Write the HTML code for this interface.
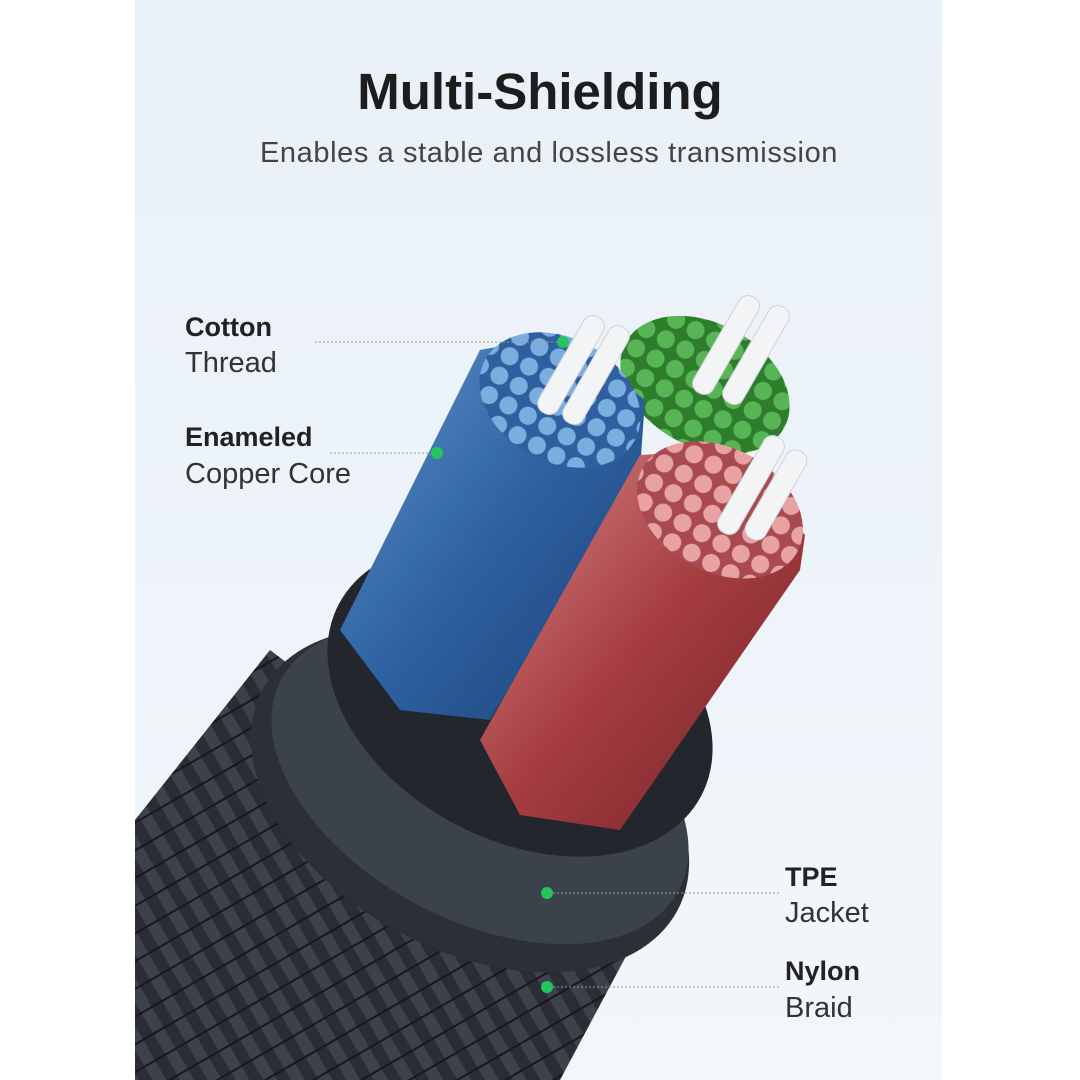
<!DOCTYPE html>
<html><head><style>
body{margin:0;width:1080px;height:1080px;background:#fff;overflow:hidden;font-family:"Liberation Sans",sans-serif}
.panel{position:absolute;left:135px;top:0;width:807px;height:1080px;background:linear-gradient(#e9f1f8,#eef4f9 60%,#f3f7fb)}
.t{position:absolute;color:#222}
.b{font-weight:bold;font-size:27px}
.n{font-size:29px;color:#333}
</style></head><body>
<div class="panel"></div>
<svg width="1080" height="1080" style="position:absolute;left:0;top:0">
<defs>
<linearGradient id="bl" x1="0" y1="0" x2="1" y2="1"><stop offset="0" stop-color="#5f95cc"/><stop offset=".5" stop-color="#2e62a2"/><stop offset="1" stop-color="#1d3f75"/></linearGradient>
<linearGradient id="rd" x1="0" y1="0" x2="1" y2="1"><stop offset="0" stop-color="#d88888"/><stop offset=".5" stop-color="#a63d40"/><stop offset="1" stop-color="#6e2226"/></linearGradient>
<pattern id="wv" width="24" height="24" patternUnits="userSpaceOnUse" patternTransform="rotate(-30)"><rect width="24" height="24" fill="#2a2d33"/><rect width="12" height="24" fill="#3d424a"/><rect y="11" width="24" height="2" fill="#16181c"/></pattern>
<pattern id="bw" width="22" height="22" patternUnits="userSpaceOnUse"><rect width="22" height="22" fill="#2f5f9e"/><circle cx="11" cy="11" r="9" fill="#7aaede"/></pattern>
<pattern id="rw" width="22" height="22" patternUnits="userSpaceOnUse"><rect width="22" height="22" fill="#a84a50"/><circle cx="11" cy="11" r="9" fill="#e9a2a2"/></pattern>
<pattern id="gw" width="22" height="22" patternUnits="userSpaceOnUse"><rect width="22" height="22" fill="#2e7d2c"/><circle cx="11" cy="11" r="9" fill="#58b555"/></pattern>
</defs>
<polygon points="135,820 270,650 640,930 560,1080 135,1080" fill="url(#wv)"/>
<ellipse cx="470" cy="800" rx="235" ry="150" transform="rotate(28 470 800)" fill="#2b2f36"/>
<ellipse cx="480" cy="785" rx="225" ry="135" transform="rotate(28 480 785)" fill="#3c424b"/>
<ellipse cx="520" cy="700" rx="205" ry="140" transform="rotate(28 520 700)" fill="#23272d"/>
<!-- green -->
<ellipse cx="705" cy="385" rx="90" ry="62" transform="rotate(28 705 385)" fill="url(#gw)"/>
<!-- blue -->
<polygon points="480,350 560,335 645,400 640,470 490,720 400,710 340,630" fill="url(#bl)"/>
<ellipse cx="560" cy="400" rx="85" ry="62" transform="rotate(28 560 400)" fill="url(#bw)"/>
<!-- red -->
<polygon points="640,455 730,450 805,535 800,570 620,830 520,815 480,740" fill="url(#rd)"/>
<ellipse cx="720" cy="510" rx="88" ry="62" transform="rotate(28 720 510)" fill="url(#rw)"/>
<!-- white threads -->
<g fill="#f2f4f6" stroke="#cfd4da">
<rect x="560" y="310" width="22" height="110" rx="10" transform="rotate(30 571 365)"/>
<rect x="585" y="320" width="22" height="110" rx="10" transform="rotate(30 596 375)"/>
<rect x="715" y="290" width="22" height="110" rx="10" transform="rotate(30 726 345)"/>
<rect x="745" y="300" width="22" height="110" rx="10" transform="rotate(30 756 355)"/>
<rect x="740" y="430" width="22" height="110" rx="10" transform="rotate(30 751 485)"/>
<rect x="765" y="445" width="22" height="100" rx="10" transform="rotate(30 776 495)"/>
</g>
<g stroke="#999" stroke-dasharray="2,2" stroke-width="1">
<line x1="315" y1="342" x2="558" y2="342"/>
<line x1="330" y1="453" x2="432" y2="453"/>
<line x1="553" y1="893" x2="780" y2="893"/>
<line x1="553" y1="987" x2="780" y2="987"/>
</g>
<g fill="#22c55e"><circle cx="563" cy="342" r="6"/><circle cx="437" cy="453" r="6"/><circle cx="547" cy="893" r="6"/><circle cx="547" cy="987" r="6"/></g>
</svg>
<div class="t" style="left:0;width:1080px;text-align:center;top:62px;font-size:51px;font-weight:bold;color:#1d1d1d">Multi-Shielding</div>
<div class="t" style="left:0;width:1098px;text-align:center;top:137px;font-size:29px;color:#444;letter-spacing:0.6px">Enables a stable and lossless transmission</div>
<div class="t b" style="left:185px;top:312px">Cotton</div>
<div class="t n" style="left:185px;top:347px">Thread</div>
<div class="t b" style="left:185px;top:422px">Enameled</div>
<div class="t n" style="left:185px;top:458px">Copper Core</div>
<div class="t b" style="left:785px;top:862px">TPE</div>
<div class="t n" style="left:785px;top:897px">Jacket</div>
<div class="t b" style="left:785px;top:956px">Nylon</div>
<div class="t n" style="left:785px;top:992px">Braid</div>
</body></html>
